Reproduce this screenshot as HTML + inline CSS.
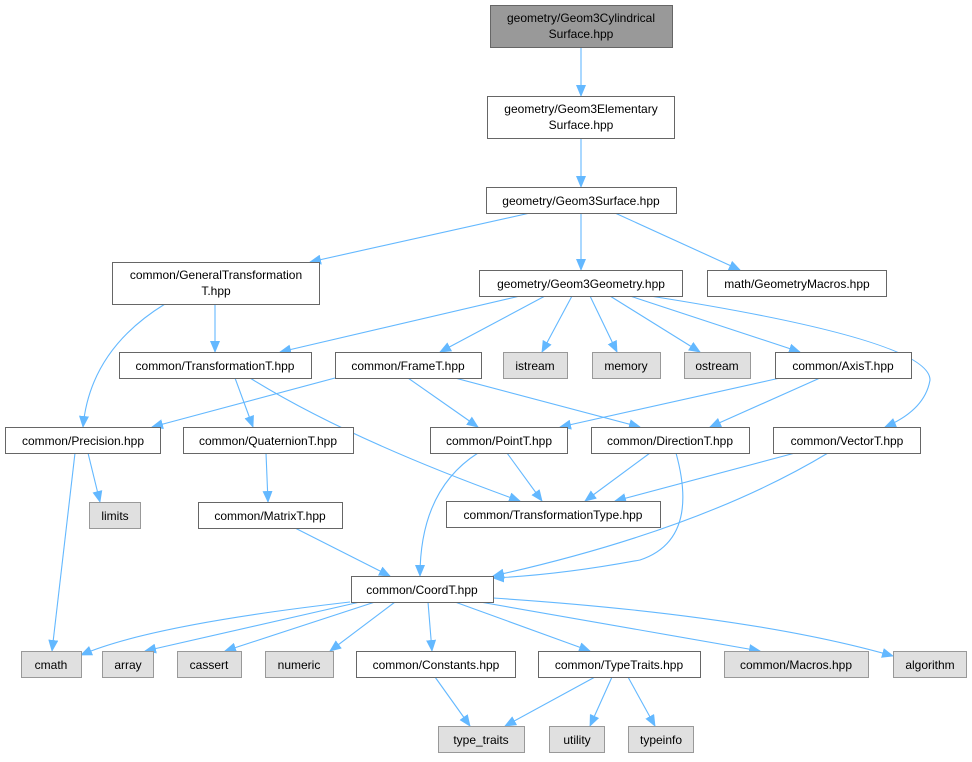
<!DOCTYPE html>
<html><head><meta charset="utf-8"><style>
body{margin:0;background:#fff}
svg text{font-family:"Liberation Sans",Arial,sans-serif;font-size:12px;fill:#000;text-anchor:middle}
.b{fill:#fff;stroke:#666;stroke-width:1}
.g{fill:#e0e0e0;stroke:#999;stroke-width:1}
.e{fill:none;stroke:#63b8ff;stroke-width:1.1;marker-end:url(#a)}
</style></head><body>
<svg width="972" height="757" viewBox="0 0 972 757" xmlns="http://www.w3.org/2000/svg">
<defs><marker id="a" markerWidth="12" markerHeight="10" refX="11" refY="5" orient="auto" markerUnits="userSpaceOnUse"><path d="M0,0 L12,5 L0,10 z" fill="#63b8ff"/></marker></defs>
<!-- edges -->
<path class="e" d="M581,47 L581,96"/>
<path class="e" d="M581,138 L581,187"/>
<path class="e" d="M530,213 L310,262"/>
<path class="e" d="M581,213 L581,270"/>
<path class="e" d="M615,213 L740,270"/>
<path class="e" d="M215,304 L215,352"/>
<path class="e" d="M165,304 Q90,350 83,427"/>
<path class="e" d="M520,296 L280,352"/>
<path class="e" d="M545,296 L440,352"/>
<path class="e" d="M572,296 L542,352"/>
<path class="e" d="M590,296 L617,352"/>
<path class="e" d="M610,296 L700,352"/>
<path class="e" d="M630,296 L800,352"/>
<path class="e" d="M650,296 Q930,340 930,380 Q925,410 885,427"/>
<path class="e" d="M235,378 L253,427"/>
<path class="e" d="M250,378 Q350,440 520,501"/>
<path class="e" d="M335,378 L152,427"/>
<path class="e" d="M408,378 L478,427"/>
<path class="e" d="M455,378 L640,427"/>
<path class="e" d="M780,378 L560,427"/>
<path class="e" d="M820,378 L710,427"/>
<path class="e" d="M88,453 L100,502"/>
<path class="e" d="M75,453 L52,651"/>
<path class="e" d="M266,453 L268,502"/>
<path class="e" d="M507,453 L542,501"/>
<path class="e" d="M478,453 Q420,490 420,576"/>
<path class="e" d="M650,453 L585,501"/>
<path class="e" d="M676,453 Q700,540 640,560 Q560,575 493,578"/>
<path class="e" d="M795,453 L615,501"/>
<path class="e" d="M828,453 Q700,530 493,576"/>
<path class="e" d="M295,528 L390,576"/>
<path class="e" d="M350,602 Q150,625 81,655"/>
<path class="e" d="M360,602 L145,651"/>
<path class="e" d="M375,602 L225,651"/>
<path class="e" d="M395,602 L330,651"/>
<path class="e" d="M428,602 L432,651"/>
<path class="e" d="M455,602 L590,651"/>
<path class="e" d="M480,602 L760,651"/>
<path class="e" d="M493,598 Q750,615 893,656"/>
<path class="e" d="M435,677 L470,726"/>
<path class="e" d="M595,677 L505,726"/>
<path class="e" d="M612,677 L590,726"/>
<path class="e" d="M628,677 L655,726"/>
<!-- nodes -->
<rect x="490.5" y="5.5" width="182" height="42" fill="#999" stroke="#666"/>
<text x="581" y="22">geometry/Geom3Cylindrical</text><text x="581" y="38">Surface.hpp</text>
<rect class="b" x="487.5" y="96.5" width="187" height="42"/>
<text x="581" y="113">geometry/Geom3Elementary</text><text x="581" y="129">Surface.hpp</text>
<rect class="b" x="486.5" y="187.5" width="190" height="26"/><text x="581" y="205">geometry/Geom3Surface.hpp</text>
<rect class="b" x="112.5" y="262.5" width="207" height="42"/>
<text x="216" y="279">common/GeneralTransformation</text><text x="216" y="295">T.hpp</text>
<rect class="b" x="479.5" y="270.5" width="203" height="26"/><text x="581" y="288">geometry/Geom3Geometry.hpp</text>
<rect class="b" x="707.5" y="270.5" width="179" height="26"/><text x="797" y="288">math/GeometryMacros.hpp</text>
<rect class="b" x="119.5" y="352.5" width="192" height="26"/><text x="215" y="370">common/TransformationT.hpp</text>
<rect class="b" x="335.5" y="352.5" width="146" height="26"/><text x="408" y="370">common/FrameT.hpp</text>
<rect class="g" x="503.5" y="352.5" width="64" height="26"/><text x="535" y="370">istream</text>
<rect class="g" x="592.5" y="352.5" width="68" height="26"/><text x="626" y="370">memory</text>
<rect class="g" x="684.5" y="352.5" width="66" height="26"/><text x="717" y="370">ostream</text>
<rect class="b" x="775.5" y="352.5" width="136" height="26"/><text x="843" y="370">common/AxisT.hpp</text>
<rect class="b" x="5.5" y="427.5" width="155" height="26"/><text x="83" y="445">common/Precision.hpp</text>
<rect class="b" x="183.5" y="427.5" width="170" height="26"/><text x="268" y="445">common/QuaternionT.hpp</text>
<rect class="b" x="430.5" y="427.5" width="137" height="26"/><text x="499" y="445">common/PointT.hpp</text>
<rect class="b" x="591.5" y="427.5" width="158" height="26"/><text x="670" y="445">common/DirectionT.hpp</text>
<rect class="b" x="773.5" y="427.5" width="147" height="26"/><text x="847" y="445">common/VectorT.hpp</text>
<rect class="g" x="89.5" y="502.5" width="51" height="26"/><text x="115" y="520">limits</text>
<rect class="b" x="198.5" y="502.5" width="144" height="26"/><text x="270" y="520">common/MatrixT.hpp</text>
<rect class="b" x="446.5" y="501.5" width="214" height="26"/><text x="553" y="519">common/TransformationType.hpp</text>
<rect class="b" x="351.5" y="576.5" width="142" height="26"/><text x="422" y="594">common/CoordT.hpp</text>
<rect class="g" x="21.5" y="651.5" width="60" height="26"/><text x="51" y="669">cmath</text>
<rect class="g" x="102.5" y="651.5" width="51" height="26"/><text x="128" y="669">array</text>
<rect class="g" x="177.5" y="651.5" width="64" height="26"/><text x="209" y="669">cassert</text>
<rect class="g" x="265.5" y="651.5" width="68" height="26"/><text x="299" y="669">numeric</text>
<rect class="b" x="356.5" y="651.5" width="159" height="26"/><text x="436" y="669">common/Constants.hpp</text>
<rect class="b" x="538.5" y="651.5" width="162" height="26"/><text x="619" y="669">common/TypeTraits.hpp</text>
<rect class="g" x="724.5" y="651.5" width="144" height="26"/><text x="796" y="669">common/Macros.hpp</text>
<rect class="g" x="893.5" y="651.5" width="73" height="26"/><text x="930" y="669">algorithm</text>
<rect class="g" x="438.5" y="726.5" width="86" height="26"/><text x="481" y="744">type_traits</text>
<rect class="g" x="549.5" y="726.5" width="55" height="26"/><text x="577" y="744">utility</text>
<rect class="g" x="628.5" y="726.5" width="65" height="26"/><text x="661" y="744">typeinfo</text>
</svg>
</body></html>
